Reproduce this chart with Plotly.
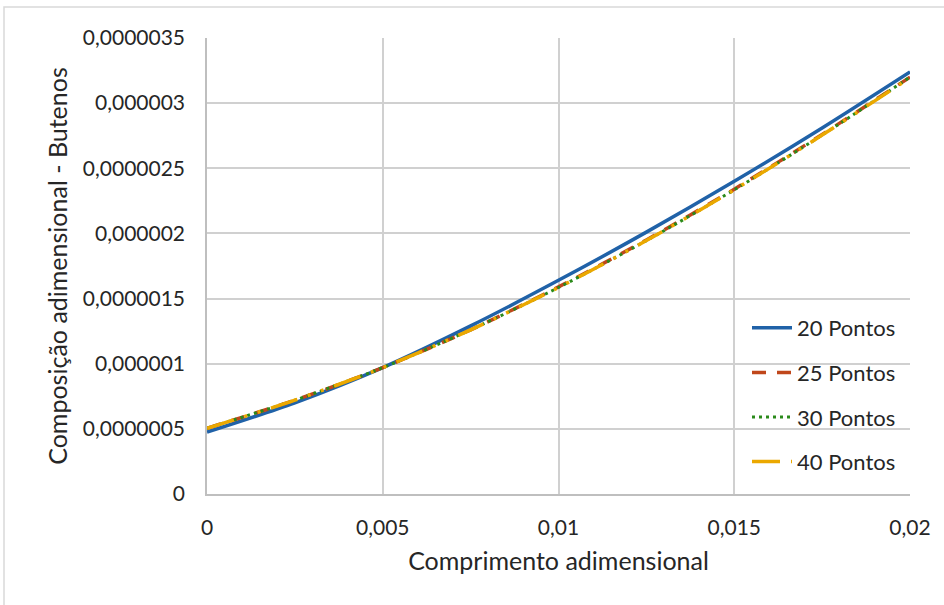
import plotly.graph_objects as go

# Data
x_vals = [0, 0.0025, 0.005, 0.0075, 0.01, 0.0125, 0.015, 0.0175, 0.02]
y_20 = [0.475e-6, 0.70e-6, 0.97e-6, 1.29e-6, 1.64e-6, 2.01e-6, 2.40e-6, 2.81e-6, 3.24e-6]
y_25 = [0.505e-6, 0.72e-6, 0.97e-6, 1.26e-6, 1.59e-6, 1.95e-6, 2.34e-6, 2.76e-6, 3.20e-6]
y_30 = [0.505e-6, 0.72e-6, 0.97e-6, 1.26e-6, 1.585e-6, 1.945e-6, 2.335e-6, 2.755e-6, 3.20e-6]
y_40 = [0.505e-6, 0.72e-6, 0.97e-6, 1.26e-6, 1.585e-6, 1.945e-6, 2.335e-6, 2.755e-6, 3.195e-6]

series_names = ["20 Pontos", "25 Pontos", "30 Pontos", "40 Pontos"]

x_tickvals = [0, 0.005, 0.01, 0.015, 0.02]
x_ticktext = ["0", "0,005", "0,01", "0,015", "0,02"]
y_tickvals = [0, 0.5e-6, 1e-6, 1.5e-6, 2e-6, 2.5e-6, 3e-6, 3.5e-6]
y_ticktext = ["0", "0,0000005", "0,000001", "0,0000015", "0,000002",
              "0,0000025", "0,000003", "0,0000035"]

FONT = "Lato"
TXT = "#262626"

styles = [
    dict(color="#2062A8", width=3.5, dash="solid"),
    dict(color="#C0471B", width=3.5, dash="14px,11px"),
    dict(color="#2A8A1A", width=3, dash="3px,4px"),
    dict(color="#EBA800", width=3.5, dash="28px,11px,3px,11px,3px,11px"),
]

fig = go.Figure()
for name, ys, st in zip(series_names, [y_20, y_25, y_30, y_40], styles):
    fig.add_trace(go.Scatter(
        x=x_vals, y=ys, mode="lines", name=name, legendgroup=name,
        line=dict(shape="spline", smoothing=0.8, **st),
    ))

W, H = 944, 605
L, R, T, B = 207, 34, 38, 111
pw, ph = W - L - R, H - T - B

def px_to_paper_x(px):
    return (px - L) / pw

def px_to_paper_y(py):
    return (H - B - py) / ph

fig.update_layout(
    width=W, height=H,
    margin=dict(l=L, r=R, t=T, b=B, autoexpand=False),
    paper_bgcolor="white", plot_bgcolor="white",
    font=dict(family=FONT, size=21, color=TXT),
    showlegend=True,
    legend=dict(
        x=px_to_paper_x(747), y=px_to_paper_y(307),
        xanchor="left", yanchor="top",
        bgcolor="rgba(255,255,255,0)",
        font=dict(family=FONT, size=22, color=TXT),
        tracegroupgap=13,
        itemwidth=40,
    ),
    xaxis=dict(
        range=[0, 0.02], tickvals=x_tickvals, ticktext=x_ticktext,
        showgrid=True, gridcolor="#D0D0D0", gridwidth=1.5,
        showline=True, linecolor="#BFBFBF", linewidth=1.5,
        zeroline=False, ticks="", ticklabelstandoff=14,
        tickfont=dict(family=FONT, size=21, color=TXT),
        title=dict(text="Comprimento adimensional", standoff=15,
                   font=dict(family=FONT, size=25, color=TXT)),
        automargin=False,
    ),
    yaxis=dict(
        range=[0, 3.5e-6], tickvals=y_tickvals, ticktext=y_ticktext,
        showgrid=True, gridcolor="#D0D0D0", gridwidth=1.5,
        showline=True, linecolor="#BFBFBF", linewidth=1.5,
        zeroline=False, ticks="", ticklabelstandoff=16,
        tickfont=dict(family=FONT, size=21, color=TXT),
        title=dict(text="Composição adimensional - Butenos", standoff=8,
                   font=dict(family=FONT, size=25, color=TXT)),
        automargin=False,
    ),
    shapes=[dict(
        type="rect", xref="paper", yref="paper",
        x0=px_to_paper_x(4), x1=px_to_paper_x(960),
        y0=px_to_paper_y(620), y1=px_to_paper_y(7),
        line=dict(color="#D9D9D9", width=1.5), fillcolor="rgba(0,0,0,0)",
        layer="below",
    )],
)

fig.write_html("out.html",
               config={"displayModeBar": False},
               post_script="document.body.style.margin='0';document.body.style.overflow='hidden';")
